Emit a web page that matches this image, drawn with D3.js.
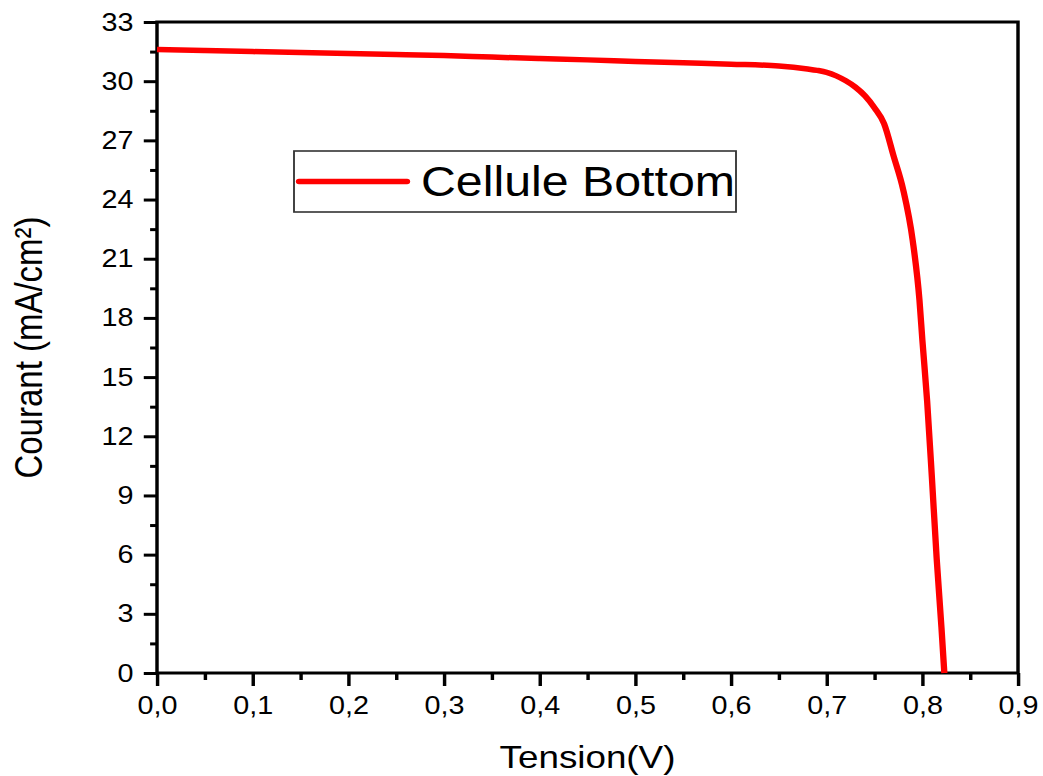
<!DOCTYPE html>
<html>
<head>
<meta charset="utf-8">
<script src="https://cdn.jsdelivr.net/npm/d3@7"></script>
<style>
    body { margin: 0; background: #fff; }
    svg { display: block; }
    text { font-family: "Liberation Sans", Arial, sans-serif; fill: #000; }
</style>
</head>
<body>
<div class="chart"></div>
<script>
// J-V curve
var tension = [0, 0.05, 0.1, 0.15, 0.2, 0.25, 0.3, 0.35, 0.4, 0.45, 0.5, 0.55, 0.6, 0.65, 0.68,
    0.69, 0.7, 0.71, 0.72, 0.73, 0.74, 0.75, 0.76, 0.77, 0.78, 0.79, 0.797, 0.80, 0.805, 0.81, 0.815, 0.82, 0.823];
var courant = [31.6, 31.55, 31.5, 31.45, 31.4, 31.35, 31.3, 31.22, 31.15, 31.08, 31.0, 30.93, 30.86, 30.77, 30.62,
    30.55, 30.45, 30.27, 30.02, 29.7, 29.26, 28.65, 27.85, 26.2, 24.5, 21.9, 18.9, 16.9, 13.8, 9.9, 5.8, 2.3, 0];

var xTicks = [0, 0.1, 0.2, 0.3, 0.4, 0.5, 0.6, 0.7, 0.8, 0.9];
var xMinorTicks = [0.05, 0.15, 0.25, 0.35, 0.45, 0.55, 0.65, 0.75, 0.85];
var yTicks = [0, 3, 6, 9, 12, 15, 18, 21, 24, 27, 30, 33];
var yMinorTicks = [1.5, 4.5, 7.5, 10.5, 13.5, 16.5, 19.5, 22.5, 25.5, 28.5, 31.5];

var seriesName = "Cellule Bottom";
var xTitle = "Tension(V)";
var yTitle = "Courant (mA/cm²)";

var renderChart = function() {
    // the original picture is stretched sideways, so draw in a narrower box and stretch it
    var SX = 1.15;
    var W = 1043, H = 776;
    var vw = W / SX;

    var plotLeft = 157 / SX, plotRight = 1018 / SX, plotTop = 22, plotBottom = 673;

    var svg = d3.select(".chart")
                .append("svg")
                .attr("width", W)
                .attr("height", H)
                .attr("viewBox", "0 0 " + vw + " " + H)
                .attr("preserveAspectRatio", "none");

    var x = d3.scaleLinear().domain([0, 0.9]).range([plotLeft, plotRight]);
    var y = d3.scaleLinear().domain([0, 33]).range([plotBottom, plotTop]);

    var comma = function(d) {
        return d3.format(".1f")(d).replace(".", ",");
    };

    // frame
    svg.append("rect")
        .attr("x", plotLeft)
        .attr("y", plotTop)
        .attr("width", plotRight - plotLeft)
        .attr("height", plotBottom - plotTop)
        .attr("fill", "none")
        .attr("stroke", "#000")
        .attr("stroke-width", 3);

    svg.append("g")
        .attr("transform", "translate(0," + plotBottom + ")")
        .call(d3.axisBottom(x).tickValues(xTicks).tickFormat(comma).tickSize(13).tickPadding(10));

    svg.append("g")
        .attr("transform", "translate(0," + plotBottom + ")")
        .call(d3.axisBottom(x).tickValues(xMinorTicks).tickFormat("").tickSize(7));

    svg.append("g")
        .attr("transform", "translate(" + plotLeft + ",0)")
        .call(d3.axisLeft(y).tickValues(yTicks).tickSize(11.5).tickPadding(9));

    svg.append("g")
        .attr("transform", "translate(" + plotLeft + ",0)")
        .call(d3.axisLeft(y).tickValues(yMinorTicks).tickFormat("").tickSize(6));

    svg.selectAll(".domain").remove();
    svg.selectAll(".tick line").attr("stroke", "#000").attr("stroke-width", 3);
    svg.selectAll(".tick text")
        .attr("font-family", "Liberation Sans, Arial, sans-serif")
        .attr("font-size", 25)
        .attr("fill", "#000");

    // curve
    var points = tension.map(function(v, i) {
        return { v: v, j: courant[i] };
    });

    var line = d3.line()
        .x(function(d) { return x(d.v); })
        .y(function(d) { return y(d.j); })
        .curve(d3.curveMonotoneX);

    svg.append("path")
        .datum(points)
        .attr("d", line)
        .attr("fill", "none")
        .attr("stroke", "#ff0000")
        .attr("stroke-width", 5.5)
        .attr("stroke-linejoin", "round");

    // legend
    svg.append("rect")
        .attr("x", 294 / SX)
        .attr("y", 151)
        .attr("width", (736 - 294) / SX)
        .attr("height", 61)
        .attr("fill", "#fff")
        .attr("stroke", "#333")
        .attr("stroke-width", 1.6);

    svg.append("line")
        .attr("x1", 299 / SX)
        .attr("x2", 407 / SX)
        .attr("y1", 181.5)
        .attr("y2", 181.5)
        .attr("stroke", "#ff0000")
        .attr("stroke-width", 5.5)
        .attr("stroke-linecap", "round");

    svg.append("text")
        .attr("x", 421 / SX)
        .attr("y", 196)
        .attr("font-size", 42)
        .text(seriesName);

    // axis titles
    svg.append("text")
        .attr("x", (plotLeft + plotRight) / 2)
        .attr("y", 768)
        .attr("text-anchor", "middle")
        .attr("font-size", 32)
        .text(xTitle);

    svg.append("text")
        .attr("transform", "translate(" + (42 / SX) + "," + ((plotTop + plotBottom) / 2) + ") rotate(-90)")
        .attr("text-anchor", "middle")
        .attr("font-size", 33)
        .text(yTitle);
};

renderChart();
</script>
</body>
</html>
